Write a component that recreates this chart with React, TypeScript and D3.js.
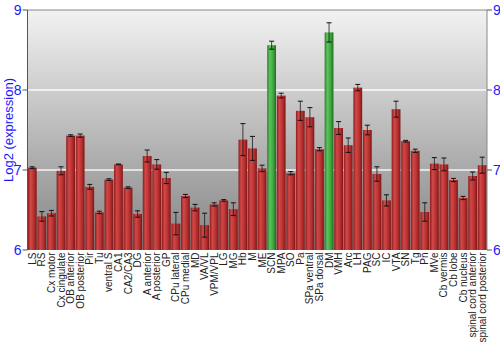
import React from "react";
import * as d3 from "d3";

const categories = ["LS","RS","Cx motor","Cx cingulate","OB anterior","OB posterior","Pir","Tu","ventral S","CA1","CA2/CA3","DG","A anterior","A posterior","GP","CPu lateral","CPu medial","MD","VA/VL","VPM/VPL","LG","MG","Hb","M","ME","SCN","MPA","SO","Pa","SPa ventral","SPa dorsal","DM","VMH","Arc","LH","PAG","SC","IC","VTA","SN","Tg","Pn","MVe","Cb vermis","Cb lobe","Cb nucleus","spinal cord anterior","spinal cord posterior"];
const values = [7.03,6.42,6.46,6.99,7.43,7.43,6.79,6.47,6.88,7.07,6.78,6.45,7.175,7.07,6.90,6.33,6.675,6.53,6.31,6.57,6.62,6.51,7.38,7.27,7.02,8.56,7.93,6.96,7.74,7.66,7.26,8.72,7.525,7.31,8.03,7.50,6.95,6.62,7.76,7.36,7.24,6.475,7.08,7.07,6.875,6.65,6.925,7.06];
const errors = [0.01,0.06,0.035,0.05,0.01,0.02,0.03,0.015,0.01,0.005,0.01,0.04,0.075,0.06,0.07,0.14,0.02,0.04,0.15,0.02,0.01,0.08,0.2,0.15,0.04,0.05,0.03,0.02,0.12,0.12,0.02,0.12,0.08,0.09,0.04,0.06,0.09,0.07,0.1,0.01,0.02,0.115,0.075,0.08,0.02,0.02,0.05,0.1];
const highlighted = ["SCN","DM"];
const yTicks = [6,7,8,9];

export default function App() {
  const W = 500, H = 350;
  const left = 27.5, right = 487, top = 10, bottom = 250;
  const x = d3.scaleBand<string>().domain(categories).range([left, right]).paddingInner(0.08).paddingOuter(0.04);
  const y = d3.scaleLinear().domain([6, 9]).range([bottom, top]);
  const bw = x.bandwidth();
  return (
    <svg width={W} height={H} style={{ position: "absolute", left: 0, top: 0 }} fontFamily="'Liberation Sans', Arial, sans-serif">
      <defs>
        <linearGradient id="bg" x1="0" y1="0" x2="0" y2="1">
          <stop offset="0" stopColor="#f2f2f2" />
          <stop offset="1" stopColor="#848484" />
        </linearGradient>
        <linearGradient id="red" x1="0" y1="0" x2="1" y2="0">
          <stop offset="0" stopColor="#8e1c1c" />
          <stop offset="0.3" stopColor="#d24848" />
          <stop offset="0.7" stopColor="#b52e2e" />
          <stop offset="1" stopColor="#7c1616" />
        </linearGradient>
        <linearGradient id="green" x1="0" y1="0" x2="1" y2="0">
          <stop offset="0" stopColor="#2a7e2a" />
          <stop offset="0.3" stopColor="#5cc45c" />
          <stop offset="0.7" stopColor="#3ca43c" />
          <stop offset="1" stopColor="#216b21" />
        </linearGradient>
      </defs>
      <rect x={left} y={top} width={right - left} height={bottom - top} fill="url(#bg)" />
      {[7, 8].map((t) => (
        <line key={t} x1={left} x2={right} y1={y(t)} y2={y(t)} stroke="#ffffff" strokeWidth={1.5} opacity={0.9} />
      ))}
      {categories.map((c, i) => {
        const v = values[i];
        const bx = x(c)!;
        return (
          <rect key={c} x={bx} y={y(v)} width={bw} height={bottom - y(v)} fill={highlighted.includes(c) ? "url(#green)" : "url(#red)"} />
        );
      })}
      {categories.map((c, i) => {
        const v = values[i], e = errors[i];
        const cx = x(c)! + bw / 2;
        const y1 = y(v + e), y2 = y(v - e);
        return (
          <g key={c} stroke="#111" strokeWidth={1}>
            <line x1={cx} x2={cx} y1={y1} y2={y2} opacity={0.75} />
            <line x1={cx - 2.5} x2={cx + 2.5} y1={y1} y2={y1} />
            <line x1={cx - 2.5} x2={cx + 2.5} y1={y2} y2={y2} />
          </g>
        );
      })}
      <line x1={left} x2={right} y1={top} y2={top} stroke="#888" strokeWidth={1} />
      <line x1={left} x2={left} y1={top} y2={bottom} stroke="#555" strokeWidth={1} />
      <line x1={right} x2={right} y1={top} y2={bottom} stroke="#888" strokeWidth={1} />
      {yTicks.map((t) => (
        <g key={t}>
          <line x1={left - 5} x2={left} y1={y(t)} y2={y(t)} stroke="#555" />
          <text x={left - 6} y={y(t)} dy="0.36em" textAnchor="end" fontSize={14} fill="#1a1aff">{t}</text>
          <line x1={right} x2={right + 5} y1={y(t)} y2={y(t)} stroke="#555" />
          <text x={right + 6} y={y(t)} dy="0.36em" textAnchor="start" fontSize={14} fill="#1a1aff">{t}</text>
        </g>
      ))}
      <text transform={`translate(13,130) rotate(-90)`} textAnchor="middle" fontSize={13} fill="#1a1aff">Log2 (expression)</text>
      {categories.map((c) => (
        <text key={c} transform={`translate(${x(c)! + bw / 2},${bottom + 2.5}) rotate(-90)`} dy="0.35em" textAnchor="end" fontSize={10} fill="#222">{c}</text>
      ))}
    </svg>
  );
}
